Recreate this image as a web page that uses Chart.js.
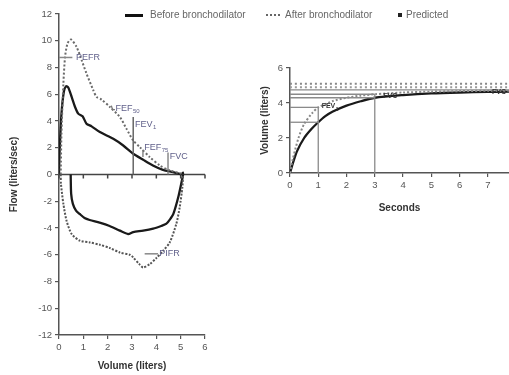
<!DOCTYPE html>
<html>
<head>
<meta charset="utf-8">
<script src="https://cdn.jsdelivr.net/npm/chart.js@4/dist/chart.umd.min.js"></script>
<style>
  body { margin: 0; background: #fff; }
  #wrap { position: relative; width: 509px; height: 375px; overflow: hidden; font-family: "Liberation Sans", Arial, sans-serif; }
  #left { position: absolute; left: 0; top: 0; }
  #right { position: absolute; left: 255px; top: 0; }
  .lg { position: absolute; font-size: 10px; color: #666; white-space: nowrap; top: 9px; line-height: 12px; }
  .sw { position: absolute; }
</style>
</head>
<body>
<div id="wrap">
  <canvas id="left" width="250" height="375"></canvas>
  <canvas id="right" width="254" height="375"></canvas>
  <div class="sw" style="left:125px;top:14px;width:18px;height:3px;background:#111"></div>
  <div class="lg" style="left:150px">Before bronchodilator</div>
  <div class="sw" style="left:266px;top:14px;width:14px;border-top:2px dotted #666"></div>
  <div class="lg" style="left:285px">After bronchodilator</div>
  <div class="sw" style="left:398px;top:13px;width:4px;height:4px;background:#222"></div>
  <div class="lg" style="left:406px">Predicted</div>
</div>
<script>
// --- Courbe débit-volume (gauche) ---
const volBeforeExp = [0, 0.02, 0.1, 0.2, 0.29, 0.38, 0.52, 0.66, 0.79, 0.97, 1.13, 1.34, 1.68, 2.23, 2.64, 3.05, 3.46, 3.86, 4.27, 4.69, 4.96, 5.05];
const flowBeforeExp = [0, 1.5, 4.5, 6.2, 6.6, 6.5, 5.8, 5.05, 4.55, 4.35, 3.8, 3.6, 3.17, 2.67, 2.17, 1.55, 1.1, 0.68, 0.35, 0.18, 0.05, 0];
const volBeforeIns = [0.48, 0.5, 0.57, 0.7, 0.85, 1.05, 1.26, 1.67, 2.08, 2.5, 2.84, 3.05, 3.46, 3.87, 4.2, 4.4, 4.6, 4.7, 4.9, 5.05, 5.1, 5.08];
const flowBeforeIns = [0, -1.45, -2.2, -2.7, -2.95, -3.25, -3.4, -3.6, -3.85, -4.2, -4.45, -4.3, -4.2, -4.05, -3.85, -3.7, -3.25, -2.95, -1.7, -0.45, 0, 0.2];

const volAfterExp = [0.07, 0.1, 0.18, 0.25, 0.35, 0.49, 0.72, 0.93, 1.13, 1.41, 1.54, 1.75, 2.09, 2.5, 2.77, 3.05, 3.32, 3.73, 4.14, 4.55, 4.96, 5.1];
const flowAfterExp = [0, 3.0, 6.8, 8.8, 9.8, 10.1, 9.55, 8.55, 7.55, 6.3, 5.8, 5.6, 5.05, 4.3, 3.43, 2.55, 2.05, 1.3, 0.68, 0.3, 0.1, 0];
const volAfterIns = [0.07, 0.08, 0.18, 0.31, 0.52, 0.86, 1.27, 1.68, 2.1, 2.5, 2.91, 3.05, 3.3, 3.46, 3.73, 4.0, 4.28, 4.55, 4.82, 4.96, 5.07, 5.1];
const flowAfterIns = [0, -0.7, -2.2, -3.45, -4.45, -4.95, -5.08, -5.25, -5.5, -5.83, -6.0, -6.2, -6.7, -6.95, -6.7, -6.25, -5.7, -5.08, -3.7, -2.45, -0.95, 0];

// repères (lignes)
const pefrVol = [0, 0.55], pefrFlow = [8.75, 8.75];
const fev1Vol = [3.05, 3.05], fev1Flow = [0, 4.3];
const fvcVol = [4.48, 4.48], fvcFlow = [0, 1.65];
const fef75Vol = [3.45, 3.45], fef75Flow = [1.3, 1.85];
const fef50Vol = [2.15, 2.2, 2.3], fef50Flow = [5.15, 4.85, 4.85];
const pifrVol = [3.52, 4.07], pifrFlow = [-5.93, -5.93];

// étiquettes
const leftLabels = ['PEFR', 'FEF', 'FEV', 'FEF', 'FVC', 'PIFR'];
const leftSubs = ['', '50', '1', '75', '', ''];
const leftLabelVol = [0.7, 2.32, 3.12, 3.5, 4.55, 4.12];
const leftLabelFlow = [8.75, 4.95, 3.75, 2.05, 1.35, -5.93];

const volTicks = [0, 1, 2, 3, 4, 5, 6];

// --- Courbe volume-temps (droite) ---
const tBefore = [0, 0.1, 0.25, 0.5, 0.75, 1, 1.25, 1.5, 2, 2.5, 3, 4, 5, 6, 7, 7.75];
const vBefore = [0, 0.55, 1.25, 2.0, 2.5, 2.9, 3.25, 3.5, 3.85, 4.1, 4.3, 4.45, 4.55, 4.6, 4.63, 4.65];
const tAfter = [0, 0.1, 0.3, 0.5, 0.8, 1, 1.5, 2, 2.5, 3, 4, 5, 6, 7, 7.75];
const vAfter = [0, 0.8, 2.0, 2.8, 3.45, 3.75, 4.1, 4.3, 4.42, 4.5, 4.6, 4.65, 4.68, 4.7, 4.7];
const predTime = [0, 7.75];
const predFvc = [5.1, 5.1];
const predFev = [4.9, 4.9];
const refTime = [[0, 7.75], [0, 3], [0, 3], [0, 1], [0, 1], [1, 1], [3, 3]];
const refVol = [[4.75, 4.75], [4.5, 4.5], [4.3, 4.3], [3.75, 3.75], [2.9, 2.9], [0, 3.75], [0, 4.5]];
const rightLabels = ['FEV', 'FVC', 'FVC'];
const rightSubs = ['1', '', ''];
const rightLabelT = [1.12, 3.3, 7.15];
const rightLabelV = [3.8, 4.42, 4.62];
const secTicks = [0, 1, 2, 3, 4, 5, 6, 7];

function pts(xs, ys) {
  return xs.map((x, i) => ({ x: x, y: ys[i] }));
}

function drawLabels(ctx, sx, sy, labels, subs, xs, ys, font, subFont, color) {
  ctx.save();
  ctx.fillStyle = color;
  ctx.textBaseline = 'middle';
  ctx.textAlign = 'left';
  labels.forEach((txt, i) => {
    const px = sx.getPixelForValue(xs[i]);
    const py = sy.getPixelForValue(ys[i]);
    ctx.font = font;
    ctx.fillText(txt, px, py);
    if (subs[i]) {
      const w = ctx.measureText(txt).width;
      ctx.font = subFont;
      ctx.fillText(subs[i], px + w + 0.5, py + 3);
    }
  });
  ctx.restore();
}

const zeroLine = {
  id: 'zeroLine',
  beforeDatasetsDraw(chart) {
    const { ctx, scales: { x, y } } = chart;
    const y0 = y.getPixelForValue(0);
    ctx.save();
    ctx.strokeStyle = '#444';
    ctx.lineWidth = 1.5;
    ctx.beginPath();
    ctx.moveTo(x.getPixelForValue(0), y0);
    ctx.lineTo(x.getPixelForValue(6), y0);
    volTicks.forEach(v => {
      const px = x.getPixelForValue(v);
      ctx.moveTo(px, y0);
      ctx.lineTo(px, y0 + 4);
    });
    ctx.stroke();
    ctx.restore();
  },
  afterDatasetsDraw(chart) {
    const { ctx, scales: { x, y } } = chart;
    drawLabels(ctx, x, y, leftLabels, leftSubs, leftLabelVol, leftLabelFlow,
      '9px "Liberation Sans"', '6px "Liberation Sans"', '#60608a');
  }
};

const rightLabelsPlugin = {
  id: 'rightLabels',
  afterDatasetsDraw(chart) {
    const { ctx, scales: { x, y } } = chart;
    drawLabels(ctx, x, y, rightLabels, rightSubs, rightLabelT, rightLabelV,
      'bold 7px "Liberation Sans"', 'bold 5px "Liberation Sans"', '#333');
  }
};

function axisOpts(min, max, step, title, titlePad, extra) {
  return Object.assign({
    type: 'linear',
    min: min,
    max: max,
    border: { display: true, color: '#555', width: 1.5 },
    grid: { display: true, drawOnChartArea: false, drawTicks: true, tickLength: 4, color: '#555', lineWidth: 1.2 },
    ticks: { stepSize: step, color: '#555', font: { family: 'Liberation Sans', size: 9.5 }, padding: 3, maxRotation: 0 },
    title: { display: true, text: title, color: '#333', font: { family: 'Liberation Sans', size: 10, weight: 'bold' }, padding: titlePad }
  }, extra || {});
}

const lineDs = (data, color, width, dash) => ({
  data: data, showLine: true, pointRadius: 0, borderColor: color,
  borderWidth: width, borderDash: dash || [], tension: 0.25, fill: false
});
const refDs = (data, color, width) => ({
  data: data, showLine: true, pointRadius: 0, borderColor: color,
  borderWidth: width, tension: 0, fill: false
});

new Chart(document.getElementById('left').getContext('2d'), {
  type: 'scatter',
  data: {
    datasets: [
      refDs(pts(pefrVol, pefrFlow), '#888', 1.5),
      refDs(pts(fev1Vol, fev1Flow), '#666', 1.5),
      refDs(pts(fvcVol, fvcFlow), '#777', 1.3),
      refDs(pts(fef75Vol, fef75Flow), '#777', 1.3),
      refDs(pts(fef50Vol, fef50Flow), '#777', 1.3),
      refDs(pts(pifrVol, pifrFlow), '#888', 1.5),
      lineDs(pts(volAfterExp, flowAfterExp), '#6a6a6a', 2, [2, 2]),
      lineDs(pts(volAfterIns, flowAfterIns), '#555', 2, [2, 1.5]),
      lineDs(pts(volBeforeExp, flowBeforeExp), '#1a1a1a', 2.3),
      lineDs(pts(volBeforeIns, flowBeforeIns), '#1a1a1a', 2.3)
    ]
  },
  options: {
    responsive: false,
    animation: false,
    layout: { padding: { top: 14, right: 45, bottom: 0, left: 0 } },
    plugins: { legend: { display: false }, tooltip: { enabled: false } },
    scales: {
      x: axisOpts(0, 6, 1, 'Volume (liters)', { top: 2, bottom: 3 }, { afterFit: s => { s.height = 40; } }),
      y: axisOpts(-12, 12, 2, 'Flow (liters/sec)', { top: 8, bottom: 2 }, { afterFit: s => { s.width = 59; } })
    }
  },
  plugins: [zeroLine]
});

new Chart(document.getElementById('right').getContext('2d'), {
  type: 'scatter',
  data: {
    datasets: [
      ...refTime.map((t, i) => refDs(pts(t, refVol[i]), '#8a8a8a', 1.3)),
      lineDs(pts(predTime, predFvc), '#888', 2, [2, 3]),
      lineDs(pts(predTime, predFev), '#999', 2, [2, 3]),
      lineDs(pts(tAfter, vAfter), '#888', 2, [2, 2]),
      lineDs(pts(tBefore, vBefore), '#1a1a1a', 2.3)
    ]
  },
  options: {
    responsive: false,
    animation: false,
    layout: { padding: { top: 68, right: 0, bottom: 158, left: 0 } },
    plugins: { legend: { display: false }, tooltip: { enabled: false } },
    scales: {
      x: axisOpts(0, 7.75, 1, 'Seconds', { top: 2, bottom: 3 }, {
        afterFit: s => { s.height = 44; },
        afterBuildTicks: s => { s.ticks = secTicks.map(v => ({ value: v })); }
      }),
      y: axisOpts(0, 6, 2, 'Volume (liters)', { top: 4, bottom: 2 }, { afterFit: s => { s.width = 35; } })
    }
  },
  plugins: [rightLabelsPlugin]
});
</script>
</body>
</html>
